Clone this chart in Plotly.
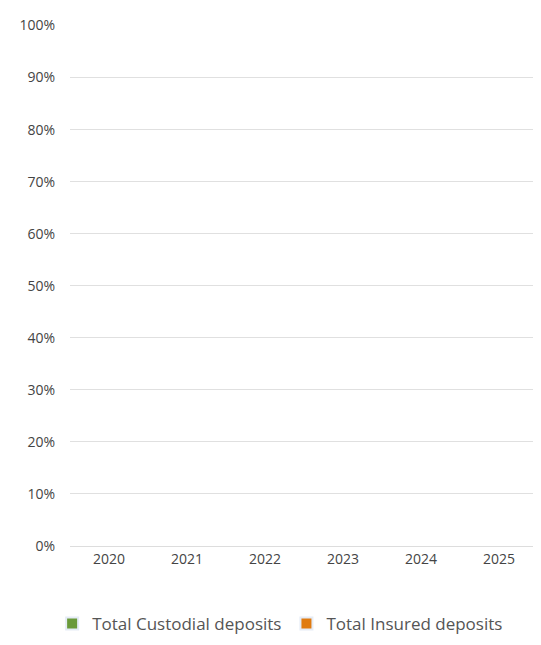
import plotly.graph_objects as go

years = ["2020", "2021", "2022", "2023", "2024", "2025"]
custodial = [None, None, None, None, None, None]
insured = [None, None, None, None, None, None]
tick_vals = [0, 10, 20, 30, 40, 50, 60, 70, 80, 90, 100]
tick_text = [f"{v}%" for v in tick_vals]

fig = go.Figure()
fig.add_bar(x=years, y=custodial, name="Total Custodial deposits", marker_color="#6a9a3a")
fig.add_bar(x=years, y=insured, name="Total Insured deposits", marker_color="#e07b10")

fig.update_layout(
    width=541, height=645,
    margin=dict(l=62, r=11, t=17, b=94),
    paper_bgcolor="white", plot_bgcolor="white",
    font=dict(family="Open Sans", size=14, color="#444"),
    barmode="group",
    showlegend=True,
    legend=dict(orientation="h", x=0.449, xanchor="center", y=-0.115, yanchor="top",
                font=dict(size=17, color="#555"), itemsizing="constant"),
)
fig.update_xaxes(type="category", categoryorder="array", categoryarray=years,
                 showgrid=False, showline=True, linecolor="#ddd", ticks="", range=[-0.5, 5.5],
                 automargin=False)
fig.update_yaxes(range=[0, 100.1], tickvals=tick_vals, ticktext=tick_text,
                 gridcolor="#e0e0e0", zeroline=False, showline=False, ticks="",
                 ticklabelstandoff=14, automargin=False)
fig.write_html("out.html")
